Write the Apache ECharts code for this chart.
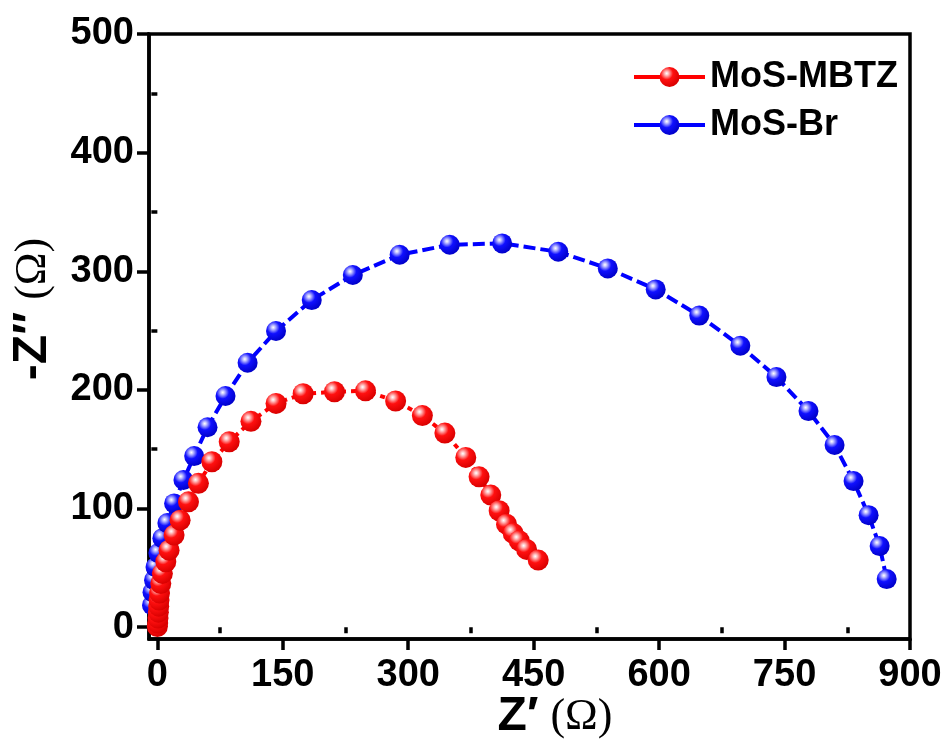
<!DOCTYPE html>
<html>
<head>
<meta charset="utf-8">
<script src="https://cdn.jsdelivr.net/npm/echarts@6/dist/echarts.min.js"></script>
<style>
  html, body { margin: 0; padding: 0; background: #ffffff; }
  #chart { width: 947px; height: 745px; }
</style>
</head>
<body>
<div id="chart"></div>
<script>
// Nyquist data: real part Z' and negative imaginary part -Z'' (Ohm)
const seriesNames = ['MoS-MBTZ', 'MoS-Br'];

const mbtzRe = [0, 0.4, 0.8, 1.2, 1.6, 2, 2.6, 4.1, 6, 10.1, 14, 20, 27.2, 37.2, 49.1, 65.2, 85.9, 111.9,
  141.9, 174.3, 211.8, 248.9, 284.9, 316.9, 343.8, 368.8, 384.7, 398.7, 408.7, 417.5, 425.5, 432.7, 441.5, 455.4];
const mbtzIm = [0.5, 3.4, 7.6, 12.6, 17.7, 22.8, 28.7, 36.8, 45.3, 55.1, 64.9, 77.6, 90.2, 105.6, 121.2, 139.4, 156.2, 173.5,
  188.6, 196.7, 198.4, 199.2, 190.6, 178.3, 163.6, 143.1, 126.7, 111.3, 98.1, 86.8, 79, 72.8, 65.5, 56.5];

const brRe = [-6.4, -5.8, -4, -2.2, 1.2, 6, 12, 20, 31.2, 44, 60, 81.5, 107.9, 141.9, 184.6, 233.7, 289.7, 349.6,
  412.3, 479.4, 538.6, 595.9, 648, 697.1, 740.3, 778.6, 809.8, 832.5, 850.5, 863.7, 872.1];
const brIm = [18.5, 29.5, 39.6, 50.6, 62.4, 75, 87.7, 104.3, 124, 144.2, 168.5, 194.8, 222.9, 249.6, 275.7, 296.8, 313.9, 322.3,
  323.5, 316.4, 302.4, 284.7, 262.6, 237.2, 210.8, 182.1, 153.5, 123.1, 94.4, 68.3, 40.5];

const xTicks = [0, 150, 300, 450, 600, 750, 900];
const xMinorTicks = [75, 225, 375, 525, 675, 825];
const yTicks = [0, 100, 200, 300, 400, 500];
const yMinorTicks = [50, 150, 250, 350, 450];

const SANS = '"Liberation Sans", Arial, sans-serif';
const SERIF = '"Liberation Serif", "Times New Roman", serif';

function pairs(xs, ys) {
  return xs.map((x, i) => [x, ys[i]]);
}

// glossy ball fill for the markers
function sphere(light, base, dark) {
  return new echarts.graphic.RadialGradient(0.36, 0.32, 0.7, [
    { offset: 0, color: '#ffffff' },
    { offset: 0.12, color: light },
    { offset: 0.45, color: base },
    { offset: 1, color: dark }
  ]);
}

const chart = echarts.init(document.getElementById('chart'), null, { renderer: 'canvas' });

const X_MIN = -10, X_MAX = 900, Y_MIN = -10, Y_MAX = 500;

const labelStyle = { fontFamily: SANS, fontWeight: 'bold', fontSize: 38, color: '#000' };

chart.setOption({
  animation: false,
  backgroundColor: '#ffffff',
  grid: {
    left: 149, right: 37, top: 34, bottom: 106,
    show: true, borderColor: '#000', borderWidth: 3.5, backgroundColor: 'transparent'
  },
  legend: {
    data: seriesNames,
    orient: 'vertical',
    left: 627, top: 54,
    itemWidth: 71, itemHeight: 25, itemGap: 12,
    lineStyle: { type: 'solid', width: 4 },
    textStyle: { fontFamily: SANS, fontWeight: 'bold', fontSize: 36, color: '#000', lineHeight: 36, padding: [0, 0, 0, 0] }
  },
  xAxis: [
    {
      type: 'value', min: X_MIN, max: X_MAX, position: 'bottom',
      splitLine: { show: false },
      axisLine: { show: true, onZero: false, lineStyle: { color: '#000', width: 3.5 } },
      axisTick: { show: true, inside: false, length: 11, customValues: xTicks, lineStyle: { color: '#000', width: 3.5 } },
      axisLabel: Object.assign({ margin: 18, customValues: xTicks }, labelStyle)
    },
    {
      type: 'value', min: X_MIN, max: X_MAX, position: 'bottom',
      splitLine: { show: false },
      axisLine: { show: false },
      axisTick: { show: true, inside: false, length: 6, customValues: xMinorTicks, lineStyle: { color: '#000', width: 3.5 } },
      axisLabel: { show: false }
    }
  ],
  yAxis: [
    {
      type: 'value', min: Y_MIN, max: Y_MAX, position: 'left',
      splitLine: { show: false },
      axisLine: { show: true, onZero: false, lineStyle: { color: '#000', width: 3.5 } },
      axisTick: { show: true, inside: false, length: 12, customValues: yTicks, lineStyle: { color: '#000', width: 3.5 } },
      axisLabel: Object.assign({ margin: 15, customValues: yTicks }, labelStyle)
    },
    {
      type: 'value', min: Y_MIN, max: Y_MAX, position: 'left',
      splitLine: { show: false },
      axisLine: { show: false },
      axisTick: { show: true, inside: false, length: 6, customValues: yMinorTicks, lineStyle: { color: '#000', width: 3.5 } },
      axisLabel: { show: false }
    }
  ],
  series: [
    {
      name: 'MoS-Br',
      type: 'line',
      xAxisIndex: 0, yAxisIndex: 0,
      data: pairs(brRe, brIm),
      symbol: 'circle', symbolSize: 20,
      lineStyle: { color: '#0000ff', width: 4, type: [12, 5] },
      itemStyle: { color: sphere('#c8c8ff', '#1010ff', '#0000c8') },
      z: 2
    },
    {
      name: 'MoS-MBTZ',
      type: 'line',
      xAxisIndex: 0, yAxisIndex: 0,
      data: pairs(mbtzRe, mbtzIm),
      symbol: 'circle', symbolSize: 21,
      lineStyle: { color: '#ff0000', width: 4, type: [5, 5] },
      itemStyle: { color: sphere('#ffc8c8', '#ff1010', '#d80000') },
      z: 3
    }
  ],
  graphic: [
    {
      type: 'text',
      x: 555, y: 717,
      style: {
        text: '{z|Z′}{o|(Ω)}',
        align: 'center', verticalAlign: 'middle',
        rich: {
          z: { fontFamily: SANS, fontWeight: 'bold', fontSize: 48, fill: '#000', padding: [0, 12, 0, 0] },
          o: { fontFamily: SERIF, fontSize: 44, fill: '#000' }
        }
      }
    },
    {
      type: 'text',
      x: 33, y: 309,
      rotation: Math.PI / 2,
      style: {
        text: '{z|-Z″}{o|(Ω)}',
        align: 'center', verticalAlign: 'middle',
        rich: {
          z: { fontFamily: SANS, fontWeight: 'bold', fontSize: 48, fill: '#000', padding: [0, 12, 0, 0] },
          o: { fontFamily: SERIF, fontSize: 44, fill: '#000' }
        }
      }
    }
  ]
});
</script>
</body>
</html>
